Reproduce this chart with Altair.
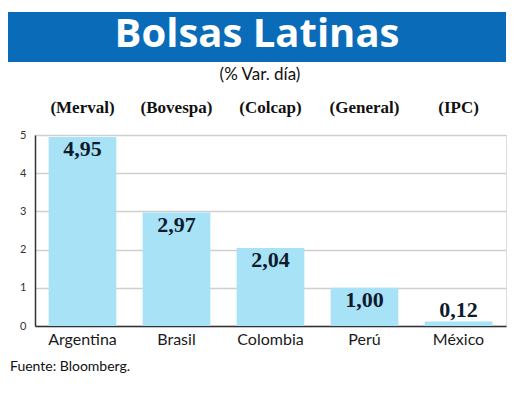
import altair as alt
import pandas as pd

countries = ["Argentina", "Brasil", "Colombia", "Perú", "México"]
indices = ["(Merval)", "(Bovespa)", "(Colcap)", "(General)", "(IPC)"]
values = [4.95, 2.97, 2.04, 1.00, 0.12]
labels = ["4,95", "2,97", "2,04", "1,00", "0,12"]
y_ticks = [0, 1, 2, 3, 4, 5]

title_text = "Bolsas Latinas"
subtitle_text = "(% Var. día)"
source_text = "Fuente: Bloomberg."

df = pd.DataFrame({"pais": countries, "indice": indices, "valor": values, "etiqueta": labels})

W, H = 471, 191
BLUE = "#0a6cb8"
BAR = "#a8e2f6"
NAVY = "#0f1b2d"

x = alt.X("pais:N", sort=countries, title=None,
          scale=alt.Scale(paddingInner=0.28, paddingOuter=0.145),
          axis=alt.Axis(labelAngle=0, labelFont="Lato", labelFontSize=16, labelColor="#1a1a1a",
                        labelPadding=5, ticks=False, domainColor="#333333", domainWidth=1.5))
y = alt.Y("valor:Q", title=None,
          scale=alt.Scale(domain=[0, 5], nice=False),
          axis=alt.Axis(values=y_ticks, labelFont="Lato", labelFontSize=11, labelColor="#333333",
                        labelPadding=9, ticks=False, domainColor="#333333", domainWidth=1.5,
                        gridColor="#cfcfcf", gridWidth=1.5, labelOverlap=False))

base = alt.Chart(df)

bars = base.mark_bar(color=BAR).encode(x=x, y=y)

inside = base.transform_filter("datum.valor >= 0.5").mark_text(
    font="Liberation Serif", fontWeight="bold", fontSize=22, color=NAVY,
    baseline="alphabetic", dy=19).encode(x=x, y=y, text="etiqueta:N")

above = base.transform_filter("datum.valor < 0.5").mark_text(
    font="Liberation Serif", fontWeight="bold", fontSize=22, color=NAVY,
    baseline="alphabetic", dy=-4).encode(x=x, y=y, text="etiqueta:N")

idx = base.mark_text(font="Liberation Serif", fontWeight="bold", fontSize=17, color="#111111",
                     baseline="alphabetic").encode(
    x=x, y=alt.value(-22), text="indice:N")

banner = alt.Chart(pd.DataFrame({"t": [title_text]})).mark_rect(color=BLUE).encode(
    x=alt.value(-27), x2=alt.value(W), y=alt.value(-123), y2=alt.value(-73))

title = alt.Chart(pd.DataFrame({"t": [title_text]})).mark_text(
    font="Open Sans", fontWeight="bold", fontSize=40, color="white", baseline="alphabetic").encode(
    x=alt.value(222), y=alt.value(-88), text="t:N")

subtitle = alt.Chart(pd.DataFrame({"t": [subtitle_text]})).mark_text(
    font="Lato", fontSize=17, color="#111111", baseline="alphabetic").encode(
    x=alt.value(225), y=alt.value(-55), text="t:N")

source = alt.Chart(pd.DataFrame({"t": [source_text]})).mark_text(
    font="Lato", fontSize=14, color="#111111", baseline="alphabetic", align="left").encode(
    x=alt.value(-25), y=alt.value(236), text="t:N")

chart = alt.layer(banner, title, subtitle, bars, inside, above, idx, source).properties(
    width=W, height=H,
    autosize=alt.AutoSizeParams(type="none"),
    padding={"left": 27, "top": 127, "right": 6, "bottom": 66},
).configure_view(stroke=None).configure(background="white")

chart.save("out.html", embed_options={"renderer": "svg", "actions": False})
